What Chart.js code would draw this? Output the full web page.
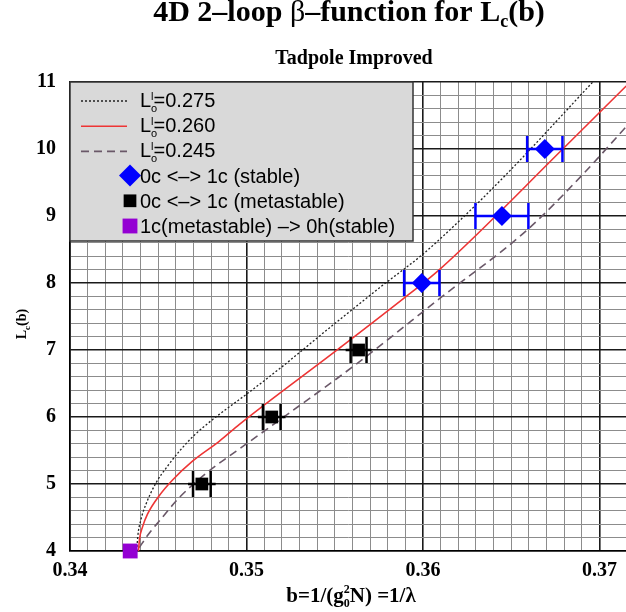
<!DOCTYPE html>
<html>
<head>
<meta charset="utf-8">
<title>4D 2-loop beta-function for Lc(b)</title>
<script src="https://cdn.jsdelivr.net/npm/chart.js@4.4.1/dist/chart.umd.min.js"></script>
<style>
    html, body { margin: 0; padding: 0; background: #fff; }
    canvas { display: block; }
</style>
</head>
<body>
<canvas id="betaChart" width="626" height="612"></canvas>
<script>
// critical L_c(b) curves, one per L_o^I value
const curve275B = [0.34378, 0.34384, 0.34401, 0.34429, 0.34488, 0.34548, 0.34620, 0.34701, 0.34807, 0.35000, 0.35187, 0.35470, 0.35754, 0.35999, 0.36207, 0.36490, 0.36962];
const curve275L = [4.00, 4.22, 4.46, 4.69, 5.02, 5.25, 5.49, 5.72, 5.96, 6.34, 6.72, 7.33, 7.93, 8.43, 8.93, 9.67, 11.00];
const curve260B = [0.34388, 0.34394, 0.34411, 0.34439, 0.34501, 0.34581, 0.34694, 0.34847, 0.34960, 0.35508, 0.35905, 0.36093, 0.36792, 0.37151];
const curve260L = [4.00, 4.18, 4.36, 4.55, 4.81, 5.06, 5.34, 5.64, 5.89, 6.99, 7.80, 8.20, 10.00, 10.94];
const curve245B = [0.34392, 0.34450, 0.34507, 0.34620, 0.34790, 0.34942, 0.35206, 0.35622, 0.36100, 0.36585, 0.36905, 0.37150];
const curve245L = [4.05, 4.27, 4.45, 4.80, 5.20, 5.49, 5.99, 6.79, 7.78, 8.78, 9.62, 10.33];

// simulation points with horizontal errors
const stableB = [0.35993, 0.36447, 0.36690];
const stableL = [8, 9, 10];
const stableErr = [0.0010, 0.0015, 0.0010];
const metaB = [0.34747, 0.35143, 0.35635];
const metaL = [5, 6, 7];
const metaErr = [0.0005, 0.0005, 0.00045];
const transB = [0.34341];
const transL = [4];

const xMin = 0.34, xMax = 0.3715, xStep = 0.001;
const yMin = 4, yMax = 11, yStep = 0.2;

const SERIF = '"Liberation Serif", "Times New Roman", serif';
const SANS = '"Liberation Sans", Arial, sans-serif';

const pts = (bs, ls) => bs.map((b, i) => ({ x: b, y: ls[i] }));
const isMajorX = v => Math.abs(v * 100 - Math.round(v * 100)) < 1e-6;
const isMajorY = v => Math.abs(v - Math.round(v)) < 1e-6;

// draws a run of text pieces; pieces flagged "stack" do not advance the pen
function drawParts(ctx, parts, x, y, align) {
    let width = 0;
    parts.forEach(p => {
        ctx.font = p.font;
        p.w = ctx.measureText(p.text).width;
        if (!p.stack) width += p.w;
    });
    let cx = align === 'center' ? x - width / 2 : x;
    ctx.textAlign = 'left';
    ctx.textBaseline = 'alphabetic';
    parts.forEach(p => {
        ctx.font = p.font;
        ctx.fillText(p.text, cx, y + (p.dy || 0));
        if (!p.stack) cx += p.w;
    });
}

const lo = value => [
    { text: 'L', font: '20px ' + SANS },
    { text: 'o', font: '11px ' + SANS, dy: 5, stack: true },
    { text: 'l', font: '11px ' + SANS, dy: -7 },
    { text: '=' + value, font: '20px ' + SANS }
];

const datasets = [
    {
        label: '0c <–> 1c (stable)',
        data: pts(stableB, stableL),
        xErr: stableErr, barColor: '#0000ff', overhang: 0,
        backgroundColor: '#0000ff', borderWidth: 0,
        pointStyle: 'rectRot', pointRadius: 10,
        showLine: false, clip: false, order: 0
    },
    {
        label: '0c <–> 1c (metastable)',
        data: pts(metaB, metaL),
        xErr: metaErr, barColor: '#000000', overhang: 5,
        backgroundColor: '#000000', borderWidth: 0,
        pointStyle: 'rect', pointRadius: 9,
        showLine: false, clip: false, order: 0
    },
    {
        label: '1c(metastable) –> 0h(stable)',
        data: pts(transB, transL),
        backgroundColor: '#9400d3', borderWidth: 0,
        pointStyle: 'rect', pointRadius: 10.5,
        showLine: false, clip: false, order: 0
    },
    {
        label: '0.275',
        data: pts(curve275B, curve275L),
        borderColor: '#222222', borderWidth: 1.3, borderDash: [2, 2],
        showLine: true, pointRadius: 0, cubicInterpolationMode: 'monotone', order: 1
    },
    {
        label: '0.260',
        data: pts(curve260B, curve260L),
        borderColor: '#ee3535', borderWidth: 1.6,
        showLine: true, pointRadius: 0, cubicInterpolationMode: 'monotone', order: 1
    },
    {
        label: '0.245',
        data: pts(curve245B, curve245L),
        borderColor: '#6a5868', borderWidth: 1.6, borderDash: [8, 5],
        showLine: true, pointRadius: 0, cubicInterpolationMode: 'monotone', order: 1
    }
];

const errorBars = {
    id: 'errorBars',
    beforeDatasetDraw(chart, args) {
        const ds = chart.data.datasets[args.index];
        if (!ds.xErr) return;
        const ctx = chart.ctx, xs = chart.scales.x, ys = chart.scales.y;
        ctx.save();
        ctx.strokeStyle = ds.barColor;
        ctx.lineWidth = 2.5;
        ds.data.forEach((p, i) => {
            const x0 = xs.getPixelForValue(p.x - ds.xErr[i]);
            const x1 = xs.getPixelForValue(p.x + ds.xErr[i]);
            const y = ys.getPixelForValue(p.y);
            ctx.beginPath();
            ctx.moveTo(x0 - ds.overhang, y);
            ctx.lineTo(x1 + ds.overhang, y);
            ctx.moveTo(x0, y - 13);
            ctx.lineTo(x0, y + 13);
            ctx.moveTo(x1, y - 13);
            ctx.lineTo(x1, y + 13);
            ctx.stroke();
        });
        ctx.restore();
    }
};

const boxLegend = {
    id: 'boxLegend',
    afterDatasetsDraw(chart) {
        const ctx = chart.ctx, a = chart.chartArea;
        const ds = chart.data.datasets;
        ctx.save();
        ctx.fillStyle = '#d9d9d9';
        ctx.fillRect(a.left, a.top, 343, 159);
        ctx.strokeStyle = '#333';
        ctx.lineWidth = 1.5;
        ctx.strokeRect(a.left, a.top, 343, 159);

        let base = a.top + 25;
        // line samples
        [3, 4, 5].forEach(i => {
            ctx.strokeStyle = ds[i].borderColor;
            ctx.lineWidth = ds[i].borderWidth;
            ctx.setLineDash(ds[i].borderDash || []);
            ctx.beginPath();
            ctx.moveTo(a.left + 11, base - 6);
            ctx.lineTo(a.left + 57, base - 6);
            ctx.stroke();
            ctx.setLineDash([]);
            ctx.fillStyle = '#000';
            drawParts(ctx, lo(ds[i].label), a.left + 70, base);
            base += 25.2;
        });
        // marker samples
        const legendRadius = [11, 9, 10.5];
        [0, 1, 2].forEach(i => {
            ctx.fillStyle = ds[i].backgroundColor;
            Chart.helpers.drawPoint(ctx, {
                pointStyle: ds[i].pointStyle, rotation: 0,
                radius: legendRadius[i], borderWidth: 0
            }, a.left + 60, base - 7);
            ctx.fillStyle = '#000';
            ctx.font = '20px ' + SANS;
            ctx.textAlign = 'left';
            ctx.fillText(ds[i].label, a.left + 70, base);
            base += 25.2;
        });
        ctx.restore();
    }
};

const titles = {
    id: 'titles',
    afterDraw(chart) {
        const ctx = chart.ctx, a = chart.chartArea;
        const mid = (a.left + a.right) / 2;
        ctx.save();
        ctx.fillStyle = '#000';
        drawParts(ctx, [
            { text: '4D 2–loop ', font: 'bold 30px ' + SERIF },
            { text: 'β', font: '30px ' + SERIF },
            { text: '–function for L', font: 'bold 30px ' + SERIF },
            { text: 'c', font: 'bold 18px ' + SERIF, dy: 6 },
            { text: '(b)', font: 'bold 30px ' + SERIF }
        ], mid + 1, 21, 'center');
        drawParts(ctx, [{ text: 'Tadpole Improved', font: 'bold 20px ' + SERIF }], mid + 6, 64, 'center');

        drawParts(ctx, [
            { text: 'b=1/(g', font: 'bold 21px ' + SERIF },
            { text: '0', font: 'bold 12px ' + SERIF, dy: 5, stack: true },
            { text: '2', font: 'bold 12px ' + SERIF, dy: -9 },
            { text: 'N) =1/λ', font: 'bold 21px ' + SERIF }
        ], mid + 3, 602, 'center');

        ctx.translate(26, 324);
        ctx.rotate(-Math.PI / 2);
        drawParts(ctx, [
            { text: 'L', font: 'bold 14px ' + SERIF },
            { text: 'c', font: 'bold 9px ' + SERIF, dy: 4 },
            { text: '(b)', font: 'bold 14px ' + SERIF }
        ], 0, 0, 'center');
        ctx.restore();
    }
};

new Chart(document.getElementById('betaChart'), {
    type: 'scatter',
    data: { datasets: datasets },
    plugins: [errorBars, boxLegend, titles],
    options: {
        responsive: false,
        animation: false,
        layout: {
            autoPadding: false,
            padding: { top: 82, left: 0, right: 0, bottom: 0 }
        },
        plugins: {
            legend: { display: false },
            tooltip: { enabled: false }
        },
        scales: {
            x: {
                type: 'linear',
                min: xMin,
                max: xMax,
                afterFit: s => {
                    s.height = 61;
                    s.paddingLeft = 0;
                    s.paddingRight = 0;
                },
                ticks: {
                    stepSize: xStep,
                    autoSkip: false,
                    maxRotation: 0,
                    padding: 8,
                    color: '#000',
                    font: { family: SERIF, size: 20, weight: 'bold' },
                    callback: v => isMajorX(v) ? v.toFixed(2) : ''
                },
                grid: {
                    drawTicks: false,
                    color: c => isMajorX(c.tick.value) ? '#1a1a1a' : '#8c8c8c',
                    lineWidth: c => isMajorX(c.tick.value) ? 1.6 : 1
                },
                border: { color: '#000', width: 1.6 }
            },
            y: {
                min: yMin,
                max: yMax,
                afterFit: s => { s.width = 70; },
                ticks: {
                    stepSize: yStep,
                    autoSkip: false,
                    padding: 14,
                    color: '#000',
                    font: { family: SERIF, size: 20, weight: 'bold' },
                    callback: v => isMajorY(v) ? String(Math.round(v)) : ''
                },
                grid: {
                    drawTicks: false,
                    color: c => isMajorY(c.tick.value) ? '#1a1a1a' : '#8c8c8c',
                    lineWidth: c => isMajorY(c.tick.value) ? 1.6 : 1
                },
                border: { color: '#000', width: 1.6 }
            }
        }
    }
});
</script>
</body>
</html>
